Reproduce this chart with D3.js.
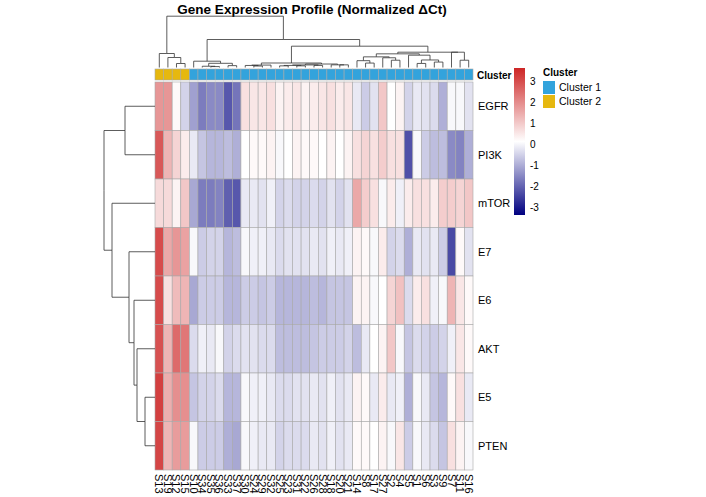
<!DOCTYPE html>
<html><head><meta charset="utf-8">
<script src="https://cdn.jsdelivr.net/npm/d3@7"></script>
<style>body{margin:0;background:#fff}text{font-family:"Liberation Sans",Arial,sans-serif}</style>
</head><body><svg id="c" width="706" height="497"></svg>
<script>
const samples=["S13","S19","S12","S15","S10","S34","S35","S36","S33","S37","S30","S24","S29","S32","S25","S23","S31","S22","S26","S28","S18","S20","S21","S14","S8","S17","S27","S2","S4","S5","S1","S6","S3","S9","S7","S11","S16"];
const genes=["EGFR","PI3K","mTOR","E7","E6","AKT","E5","PTEN"];
const clusterOf=samples.map((s,i)=>i<4?"Cluster 2":"Cluster 1");
const EGFR=[1.8,1.8,0.2,-0.5,-1.2,-1.7,-1.5,-1.5,-2.2,-1.8,0.6,0.5,0.5,0.6,0.3,0.4,0.5,0.3,0.4,0.5,0.6,0.4,0.5,-0.2,-0.6,-0.3,1.0,0.1,0.3,-0.5,-0.2,-0.3,-0.4,-1.0,0.0,0.0,-0.3];
const PI3K=[2.8,1.3,0.8,0.4,-0.2,-0.7,-0.9,-0.9,-0.8,-1.0,0.1,0.2,0.2,0.3,0.0,0.1,0.3,0.2,0.2,0.1,0.3,0.1,0.3,0.6,0.8,0.6,0.9,0.6,0.6,-2.3,0.0,-0.6,-0.8,-0.8,-1.5,-1.6,-1.0];
const mTOR=[0.7,0.7,0.3,1.0,-1.1,-1.7,-1.7,-1.6,-2.1,-2.2,-0.2,-0.2,-0.3,-0.1,-0.5,-0.4,-0.5,-0.5,-0.4,-0.5,-0.3,-0.5,-0.3,1.5,0.9,0.6,0.0,0.4,-0.1,0.4,0.6,0.6,0.4,0.9,0.9,0.8,1.0];
const E7=[3.0,1.5,1.8,1.6,0.0,-0.6,-0.5,-0.5,-0.9,-0.8,0.0,-0.1,-0.1,-0.2,-0.4,-0.3,-0.3,-0.3,-0.2,-0.3,-0.1,-0.2,-0.1,0.3,0.2,0.0,0.4,-0.5,-0.4,-1.0,-0.2,-0.3,-0.2,-0.6,-2.4,0.2,-0.3];
const E6=[3.0,0.6,1.2,1.3,-1.1,-0.6,-0.6,-0.6,-0.9,-0.9,-0.6,-0.6,-0.7,-0.6,-0.9,-0.9,-0.9,-0.9,-0.8,-0.9,-0.7,-0.7,-0.7,0.3,0.3,0.0,0.1,0.8,1.1,-0.4,0.4,0.6,-0.1,0.0,1.3,0.5,0.2];
const AKT=[2.9,1.3,2.5,2.3,-0.4,-0.1,-0.2,0.0,-0.5,-0.4,-0.3,-0.3,-0.4,-0.4,-0.8,-0.8,-0.8,-0.8,-0.7,-0.6,-0.6,-0.6,-0.5,-0.8,-0.2,0.1,0.3,1.0,0.0,-0.7,-0.4,-0.5,-0.6,-0.5,-0.1,0.5,0.2];
const E5=[3.2,1.4,1.9,1.9,-0.7,-0.5,-0.5,-0.4,-0.9,-0.9,0.0,-0.1,-0.1,-0.2,-0.4,-0.4,-0.3,-0.3,-0.2,-0.3,-0.1,-0.3,-0.2,0.3,0.2,-0.2,0.4,-0.2,-0.1,-1.0,0.0,-0.2,-0.7,-0.9,0.2,0.6,-0.2];
const PTEN=[3.1,1.3,1.7,1.7,0.0,-0.6,-0.6,-0.6,-1.0,-1.1,0.0,-0.1,-0.2,-0.2,-0.5,-0.4,-0.4,-0.4,-0.2,-0.3,-0.1,-0.3,-0.2,0.2,0.2,0.1,0.3,0.0,0.5,-0.6,0.0,-0.2,-0.4,-0.7,0.6,0.3,0.0];
const legendTicks=[3,2,1,0,-1,-2,-3];
const matrix=[EGFR,PI3K,mTOR,E7,E6,AKT,E5,PTEN];

const svg=d3.select("#c");
const x0=155,x1=473,y0=82,y1=470;
const x=d3.scaleBand().domain(samples).range([x0,x1]);
const y=d3.scaleBand().domain(genes).range([y0,y1]);
const color=d3.scaleLinear().domain([-3.4,0.1,3.6]).range(["#000080","#ffffff","#cd2626"]);
const annCol={"Cluster 1":"#33a3dc","Cluster 2":"#e6b80f"};

svg.append("text").attr("x",312).attr("y",14).attr("text-anchor","middle").attr("font-weight","bold").attr("font-size",13.5).text("Gene Expression Profile (Normalized ΔCt)");

// cells
genes.forEach((g,gi)=>samples.forEach((s,si)=>{
  svg.append("rect").attr("x",x(s)).attr("y",y(g)).attr("width",x.bandwidth()).attr("height",y.bandwidth())
   .attr("fill",color(matrix[gi][si])).attr("stroke","#a8a8a8").attr("stroke-width",0.6);
}));
// annotation bar
samples.forEach((s,si)=>svg.append("rect").attr("x",x(s)).attr("y",69).attr("width",x.bandwidth()).attr("height",11)
  .attr("fill",annCol[clusterOf[si]]).attr("stroke","#a8a8a8").attr("stroke-width",0.6));
svg.append("text").attr("x",477).attr("y",78.5).attr("font-weight","bold").attr("font-size",10).text("Cluster");

// labels
genes.forEach(g=>svg.append("text").attr("x",478).attr("y",y(g)+y.bandwidth()/2+4).attr("font-size",11).text(g));
samples.forEach(s=>svg.append("text").attr("transform",`translate(${x(s)+x.bandwidth()/2-4},474) rotate(90)`).attr("font-size",11).text(s));

// constrained (adjacent) average-linkage clustering
function cluster(idx,vecFn){
  let cl=idx.map(i=>({leaf:i,members:[i],h:0}));
  const d=(a,b)=>{let s=0,n=0;a.members.forEach(i=>b.members.forEach(j=>{const va=vecFn(i),vb=vecFn(j);let q=0;va.forEach((v,k)=>q+=(v-vb[k])**2);s+=Math.sqrt(q);n++;}));return s/n;};
  while(cl.length>1){let best=0,bd=Infinity;for(let i=0;i<cl.length-1;i++){const dd=d(cl[i],cl[i+1]);if(dd<bd){bd=dd;best=i;}}
    const n={children:[cl[best],cl[best+1]],members:cl[best].members.concat(cl[best+1].members),h:Math.max(bd,cl[best].h,cl[best+1].h)};
    cl.splice(best,2,n);}
  return cl[0];
}
function scaleH(node,top){const m=node.h||1;(function rec(n){if(n.children){n.h=n.h/m*top;n.children.forEach(rec);}})(node);node.h=top;return node;}
const colVec=i=>matrix.map(r=>r[i]);
const rng=(a,b)=>d3.range(a,b);
const leaf=i=>({leaf:i,h:0});
// column tree (heights in px above baseline)
const C2={h:14,children:[leaf(0),{h:10,children:[leaf(1),{h:4,children:[leaf(2),leaf(3)]}]}]};
const A=scaleH(cluster(rng(4,10),colVec),6.3);
const B=scaleH(cluster(rng(10,23),colVec),4.5);
const R=scaleH(cluster(rng(23,37),colVec),15.3);
const colTree={h:51.3,children:[C2,{h:28,children:[A,{h:21.3,children:[B,R]}]}]};
// row tree
const rowTree={h:51,children:[{h:30,children:[leaf(0),leaf(1)]},{h:43,children:[leaf(2),{h:26,children:[leaf(3),{h:21,children:[leaf(4),{h:18,children:[leaf(5),{h:10,children:[leaf(6),leaf(7)]}]}]}]}]}]};

function drawTree(tree,pos,horizontal,base){
  const g=svg.append("g").attr("fill","none").attr("stroke","#333").attr("stroke-width",0.8);
  function rec(n){
    if(n.leaf!==undefined&&!n.children){n.p=pos(n.leaf);return;}
    n.children.forEach(rec);
    n.p=(n.children[0].p+n.children[1].p)/2;
    n.children.forEach(c=>{
      const pts=horizontal?
        [[n.p,base-n.h],[c.p,base-n.h],[c.p,base-c.h]]:
        [[base-n.h,n.p],[base-n.h,c.p],[base-c.h,c.p]];
      g.append("path").attr("d",d3.line()(pts));
    });
  }
  rec(tree);
}
drawTree(colTree,i=>x(samples[i])+x.bandwidth()/2,true,67.5);
drawTree(rowTree,i=>y(genes[i])+y.bandwidth()/2,false,155);

// color legend
const ly=d3.scaleLinear().domain([-3.4,3.6]).range([215,68]);
const defs=svg.append("defs");const lg=defs.append("linearGradient").attr("id","lg").attr("x1",0).attr("x2",0).attr("y1",1).attr("y2",0);
d3.range(0,1.001,0.1).forEach(t=>lg.append("stop").attr("offset",t).attr("stop-color",color(-3.4+7*t)));
svg.append("rect").attr("x",514).attr("y",68).attr("width",11).attr("height",147).attr("fill","url(#lg)");
legendTicks.forEach(t=>svg.append("text").attr("x",530).attr("y",ly(t)+4).attr("font-size",10).text(t));
svg.append("text").attr("x",543).attr("y",76).attr("font-weight","bold").attr("font-size",10).text("Cluster");
[["Cluster 1",81],["Cluster 2",95]].forEach(([k,yy])=>{
  svg.append("rect").attr("x",543).attr("y",yy).attr("width",12).attr("height",13).attr("fill",annCol[k]);
  svg.append("text").attr("x",559).attr("y",yy+10).attr("font-size",10.5).text(k);
});
</script></body></html>
